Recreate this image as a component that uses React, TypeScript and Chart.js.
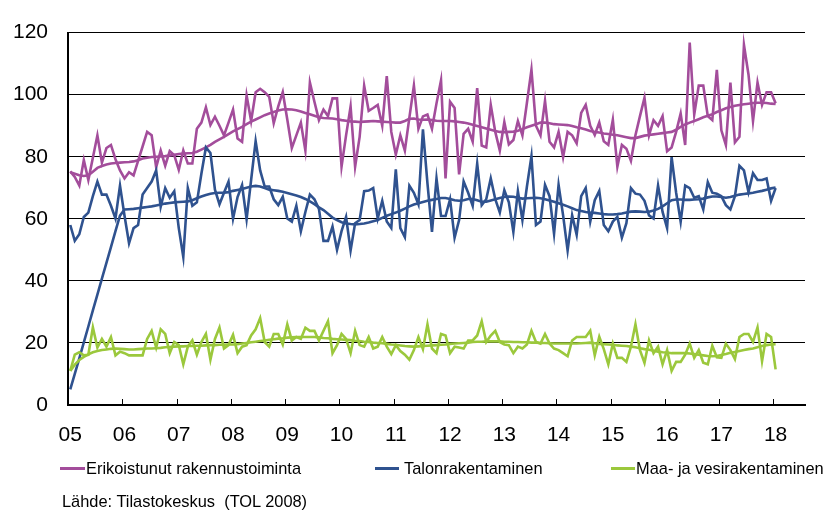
import React, { useEffect, useRef } from 'react';
import { Chart, registerables } from 'chart.js';

Chart.register(...registerables);

// Year labels (placed at each January) and tick marks (between December and January)
const yearLabels = ['05', '06', '07', '08', '09', '10', '11', '12', '13', '14', '15', '16', '17', '18'];
const yearLabelMonths = [0, 12, 24, 36, 48, 60, 72, 84, 96, 108, 120, 132, 144, 156];
const tickMarkMonths = [11.5, 23.5, 35.5, 47.5, 59.5, 71.5, 83.5, 95.5, 107.5, 119.5, 131.5, 143.5, 155.5];
const yTicks = [0, 20, 40, 60, 80, 100, 120];

// Monthly series, Jan 2005 .. Jan 2018
const erikoistunut = [
  75.3, 73.5, 70.7, 78.9, 72.5, 79.7, 86.9, 78.1, 82.8, 83.8, 79.2, 75.6,
  73, 75, 74, 78.7, 83.3, 88, 86.9, 76.6, 82, 77.1, 81.8, 80.5,
  75.8, 82, 77.8, 77.8, 89, 91, 95.9, 90.2, 92.9, 90, 86.9, 91,
  95.2, 85.9, 84.8, 99.8, 91.5, 100.8, 101.9, 100.8, 99.3, 90.8, 96.2, 100.8,
  92, 82.8, 86.9, 91, 82, 103.9, 97.7, 91.8, 95.2, 93.1, 98.8, 98.8,
  76.8, 86.9, 96.2, 76.8, 86.4, 102.9, 94.8, 95.7, 96.7, 90, 106, 88,
  80.7, 86.9, 82, 92.6, 102.9, 89, 93, 93.6, 89, 97.2, 104.6, 73,
  97.7, 95.7, 74.3, 87.4, 89, 84.9, 102.1, 83.6, 83, 96.7, 88, 82,
  91.2, 84, 85.4, 91.5, 86.9, 97.4, 108, 90, 86.9, 98, 84.8, 83,
  88, 79.9, 88, 86.9, 84.3, 94.1, 96.7, 90, 87, 91, 85, 83.8,
  91.9, 76.8, 83.8, 82.6, 78.7, 86.9, 93.1, 99, 86.9, 91.8, 90, 93.1,
  81.8, 83, 88, 93.9, 83.8, 116.8, 93.6, 102.9, 102.9, 93.1, 91.8, 108,
  88.5, 83.8, 103.9, 84.6, 86.4, 116, 106.5, 91.5, 103.9, 96.7, 100.8, 100.8,
  97.2,
];
const erikoistunutTrend = [
  75, 74.5, 74, 73.8, 74, 75.2, 76.4, 77, 77.5, 77.8, 78, 78.1,
  78.2, 78.3, 78.5, 78.9, 79.4, 79.7, 79.9, 80, 80.1, 80.2, 80.4, 80.6,
  80.9, 81, 81.1, 81.2, 81.6, 82.3, 83, 83.8, 84.8, 85.6, 86.4, 87.3,
  88.2, 88.9, 89.6, 90.5, 91.3, 92, 92.7, 93.4, 93.9, 94.4, 94.9, 95.2,
  95.3, 95.2, 95, 94.6, 94.1, 93.7, 93.2, 92.7, 92.5, 92.4, 92.3, 92.1,
  91.8, 91.6, 91.4, 91.3, 91.2, 91.3, 91.4, 91.5, 91.4, 91.3, 91.2, 91.1,
  91, 91, 91.5, 92.2, 92.3, 92, 91.9, 92, 91.8, 91.6, 91.5, 91.5,
  91.5, 91.4, 91.2, 91, 90.7, 90.3, 89.9, 89.5, 89.1, 88.7, 88.3, 88,
  87.9, 88, 88.1, 88.4, 88.9, 89.5, 90, 90.5, 91, 91, 90.8, 90.5,
  90.4, 90.3, 90.2, 89.9, 89.5, 89.2, 88.8, 88.3, 88, 87.8, 87.5, 87.3,
  87.1, 86.9, 86.6, 86.3, 86, 86, 86.4, 86.8, 87, 87.2, 87.4, 87.6,
  87.8, 88, 88.7, 89.6, 90.4, 91, 91.5, 92.1, 92.7, 93.2, 93.7, 94.4,
  95, 95.6, 96, 96.4, 96.7, 96.9, 97.1, 97.3, 97.4, 97.4, 97.3, 97.1,
  97,
];
const talonrakentaminen = [
  58, 52.9, 55, 60.6, 62, 67.3, 72, 67.8, 67.8, 64.2, 60.1, 70.7,
  61, 52.1, 57, 58, 67.8, 69.9, 72, 75.6, 63.9, 69.9, 66.8, 68.9,
  57, 47.7, 69.9, 64.2, 65.3, 74.5, 83, 81.2, 69.4, 64.7, 68.4, 72,
  60, 67, 70.9, 59.9, 72.5, 85, 75.6, 70.4, 70.4, 66.3, 64.4, 67.1,
  60.1, 59.1, 64.2, 56, 62.2, 67.8, 66.3, 63.2, 52.9, 52.9, 57.5, 50,
  56, 60.6, 49.8, 58.6, 59.6, 68.9, 69.1, 69.9, 60.1, 65.8, 59.1, 57,
  75.9, 57, 54.1, 70.7, 68.4, 64.7, 88.8, 71.4, 55.8, 73, 60.9, 60.9,
  66.3, 53.9, 59.6, 72, 68.4, 64.2, 77.8, 64.4, 66.3, 73, 66.3, 62,
  69.2, 65.3, 55.8, 68.9, 59.6, 70.4, 80.2, 58, 59.1, 70.9, 67.3, 55.2,
  70.9, 61.1, 49.8, 61.1, 54.9, 67.3, 69.9, 59.1, 66, 69, 58, 56,
  59.1, 60.6, 53.9, 58.6, 69.9, 68.1, 67.8, 65.8, 61.1, 60.1, 70.7, 62.2,
  57, 79.9, 68.4, 59.1, 70.7, 69.9, 66.8, 67.3, 63, 71.8, 68.4, 68.1,
  67.3, 64.4, 63, 67.3, 77.1, 75.6, 68.6, 74.7, 72.5, 72.5, 73, 65.8,
  69.9,
];
const talonrakentaminenTrend = [
  5, 10, 15, 20.2, 25.3, 30.5, 35.6, 40.7, 45.8, 50.9, 56, 61,
  63, 63.1, 63.2, 63.4, 63.6, 63.8, 64, 64.3, 64.6, 64.9, 65.1, 65.3,
  65.4, 65.5, 65.6, 66, 66.6, 67.2, 67.7, 68.1, 68.3, 68.4, 68.4, 68.6,
  69, 69.3, 69.6, 70, 70.4, 70.6, 70.4, 69.9, 69.4, 69.2, 69, 68.7,
  68.3, 67.9, 67.5, 67, 66.4, 65.6, 64.7, 63.7, 62.8, 61.6, 60.4, 59.6,
  58.9, 58.5, 58.3, 58.2, 58.3, 58.5, 58.8, 59.2, 59.6, 60.3, 61, 61.5,
  62, 62.6, 63.3, 64, 64.6, 65, 65.4, 65.8, 66.1, 66.4, 66.7, 66.7,
  66.4, 66, 65.8, 66, 66.4, 66.4, 66, 65.5, 65.5, 65.9, 66.3, 66.7,
  67, 67.2, 67.1, 66.8, 66.5, 66.6, 66.7, 66.8, 66.6, 66.3, 65.9, 65.5,
  65, 64.5, 64, 63.4, 62.8, 62.5, 62.2, 62, 61.9, 61.7, 61.5, 61.4,
  61.4, 61.5, 61.7, 62, 62.3, 62.4, 62.3, 62.2, 62.3, 62.7, 63.2, 64,
  65, 66, 66.2, 66.2, 66.1, 66.1, 66.2, 66.3, 66.5, 66.9, 67.2, 67.2,
  67, 66.8, 67, 67.4, 67.8, 68, 68.2, 68.4, 68.7, 69, 69.4, 69.8,
  70.1,
];
const maaJaVesi = [
  11, 16.2, 17, 16, 16.2, 25, 18.5, 21.3, 18.8, 21.9, 16, 17.2,
  16.7, 16, 16, 16, 16, 21.3, 23.9, 18.5, 24.4, 22.9, 16.7, 20.3,
  19.3, 13.1, 18.8, 20.8, 16.2, 20.3, 22.9, 14.6, 21.3, 25, 18.2, 19.3,
  22.6, 16.7, 18.8, 19.3, 22.4, 24.4, 28, 20.3, 18.8, 22.9, 22.9, 19.5,
  26, 20.8, 21.9, 21.3, 24.9, 23.9, 23.9, 20.8, 23.9, 27, 16.7, 19.3,
  22.9, 21.3, 16.7, 23.9, 19.3, 18.8, 21.9, 18.2, 18.8, 21.9, 18.8, 16.4,
  19.3, 17.4, 16.2, 14.6, 17.7, 21.9, 18, 26, 18.2, 16.7, 22.9, 22.4,
  16.7, 18.8, 18.5, 18.2, 20.8, 20.8, 22.4, 27, 20.3, 22.4, 23.9, 20.3,
  19.5, 19.3, 16.7, 18.8, 18.2, 19.5, 23.9, 20.3, 19.8, 22.9, 19.8, 18.2,
  17.7, 16.7, 15.7, 20.8, 21.9, 21.9, 21.9, 23.9, 16, 22, 18, 13.1,
  19.8, 15.2, 15.2, 13.9, 18.8, 26, 17.7, 13.6, 20.8, 16.7, 18.8, 13.1,
  17.7, 11, 13.9, 13.9, 16.2, 19.8, 15.2, 17.7, 13.6, 13.1, 19.1, 15.4,
  15.2, 19.8, 17.7, 14.8, 21.9, 22.9, 22.9, 20.3, 25, 14.1, 22.9, 21.9,
  11.5,
];
const maaJaVesiTrend = [
  11, 13, 14.5, 15.5, 16.3, 17, 17.4, 17.7, 17.9, 18.1, 18.2, 18.1,
  18, 17.9, 17.9, 18, 18.1, 18.2, 18.2, 18.3, 18.4, 18.6, 18.7, 18.8,
  18.9, 18.9, 19, 19, 19.1, 19.1, 19.2, 19.3, 19.3, 19.4, 19.4, 19.5,
  19.5, 19.6, 19.8, 20, 20.2, 20.4, 20.6, 20.8, 21, 21.2, 21.4, 21.5,
  21.7, 21.8, 21.9, 21.9, 21.9, 21.9, 21.9, 21.8, 21.6, 21.5, 21.3, 21.2,
  21.1, 21, 20.9, 20.7, 20.6, 20.4, 20.3, 20.1, 20, 19.9, 19.7, 19.5,
  19.4, 19.2, 19, 18.9, 18.8, 18.9, 19, 19.1, 19.2, 19.3, 19.4, 19.5,
  19.7, 19.8, 19.9, 20, 20.1, 20.3, 20.4, 20.4, 20.5, 20.5, 20.5, 20.5,
  20.4, 20.4, 20.3, 20.3, 20.2, 20.2, 20.1, 20.1, 20, 20, 19.9, 19.8,
  19.8, 19.8, 19.8, 19.8, 19.8, 19.9, 20, 20.1, 19.9, 19.7, 19.6, 19.5,
  19.4, 19.2, 19.1, 19, 18.8, 18.6, 18.3, 18, 17.8, 17.5, 17.2, 17,
  16.9, 16.7, 16.7, 16.7, 16.7, 16.6, 16.4, 16.2, 16, 15.8, 15.7, 15.8,
  16.1, 16.4, 16.8, 17.1, 17.4, 17.7, 18, 18.2, 18.6, 19, 19.3, 19.5,
  19.6,
];

const PURPLE = '#A34D9B';
const BLUE = '#2F528F';
const GREEN = '#9BC83C';
const FONT = "'Liberation Sans', Arial, sans-serif";

const toPoints = (arr: number[]) => arr.map((y, i) => ({ x: i, y }));

const tickMarkPlugin = {
  id: 'tickMarks',
  afterDraw(chart: any) {
    const xs = chart.scales.x;
    const ctx = chart.ctx;
    const bottom = chart.chartArea.bottom;
    ctx.save();
    ctx.strokeStyle = '#000';
    ctx.lineWidth = 1;
    for (const m of tickMarkMonths) {
      const px = Math.round(xs.getPixelForValue(m)) + 0.5;
      ctx.beginPath();
      ctx.moveTo(px, bottom);
      ctx.lineTo(px, bottom - 6);
      ctx.stroke();
    }
    ctx.restore();
  },
};

export default function App() {
  const ref = useRef<HTMLCanvasElement | null>(null);

  useEffect(() => {
    if (!ref.current) return;
    const line = (data: number[], color: string, order: number) => ({
      data: toPoints(data),
      borderColor: color,
      backgroundColor: color,
      borderWidth: 2.6,
      pointRadius: 0,
      tension: 0,
      fill: false,
      order,
    });
    const chart = new Chart(ref.current, {
      type: 'line',
      data: {
        datasets: [
          line(erikoistunut, PURPLE, 6),
          line(erikoistunutTrend, PURPLE, 5),
          line(talonrakentaminen, BLUE, 4),
          line(talonrakentaminenTrend, BLUE, 3),
          line(maaJaVesi, GREEN, 2),
          line(maaJaVesiTrend, GREEN, 1),
        ],
      },
      options: {
        animation: false,
        responsive: false,
        maintainAspectRatio: false,
        layout: { padding: { left: 0, right: 27, top: 19, bottom: 0 } },
        plugins: { legend: { display: false }, tooltip: { enabled: false } },
        scales: {
          x: {
            type: 'linear',
            min: -0.5,
            max: 162.5,
            grid: { display: false },
            border: { display: true, color: '#000', width: 2 },
            afterBuildTicks: (s: any) => {
              s.ticks = yearLabelMonths.map((v) => ({ value: v }));
            },
            afterFit: (s: any) => {
              s.height = 108;
            },
            ticks: {
              autoSkip: false,
              maxRotation: 0,
              padding: 10,
              color: '#000',
              font: { family: FONT, size: 21 },
              callback: (v: any) => {
                const idx = yearLabelMonths.indexOf(Number(v));
                return idx >= 0 ? yearLabels[idx] : '';
              },
            },
          },
          y: {
            min: 0,
            max: 120,
            grid: { color: '#000', lineWidth: 1, drawTicks: false },
            border: { display: true, color: '#000', width: 2 },
            afterBuildTicks: (s: any) => {
              s.ticks = yTicks.map((v) => ({ value: v }));
            },
            afterFit: (s: any) => {
              s.width = 68;
            },
            ticks: {
              padding: 20,
              color: '#000',
              font: { family: FONT, size: 21 },
            },
          },
        },
      },
      plugins: [tickMarkPlugin],
    } as any);
    return () => chart.destroy();
  }, []);

  const legendItems = [
    { label: 'Erikoistunut rakennustoiminta', color: PURPLE, lineLeft: 60, lineWidth: 25, textLeft: 86 },
    { label: 'Talonrakentaminen', color: BLUE, lineLeft: 375, lineWidth: 24, textLeft: 404 },
    { label: 'Maa- ja vesirakentaminen', color: GREEN, lineLeft: 611, lineWidth: 24, textLeft: 636 },
  ];

  return (
    <div style={{ position: 'absolute', left: 0, top: 0, width: 832, height: 513, background: '#fff', overflow: 'hidden' }}>
      <canvas ref={ref} width={832} height={513} style={{ position: 'absolute', left: 0, top: 0, width: 832, height: 513 }} />
      {legendItems.map((it) => (
        <React.Fragment key={it.label}>
          <div style={{ position: 'absolute', left: it.lineLeft, top: 467, width: it.lineWidth, height: 3, background: it.color }} />
          <div style={{ position: 'absolute', left: it.textLeft, top: 458, height: 20, lineHeight: '20px', fontFamily: FONT, fontSize: 16.4, color: '#000', whiteSpace: 'nowrap' }}>
            {it.label}
          </div>
        </React.Fragment>
      ))}
      <div style={{ position: 'absolute', left: 62, top: 491, height: 20, lineHeight: '20px', fontFamily: FONT, fontSize: 16.4, color: '#000', whiteSpace: 'pre' }}>
        {'Lähde: Tilastokeskus  (TOL 2008)'}
      </div>
    </div>
  );
}
